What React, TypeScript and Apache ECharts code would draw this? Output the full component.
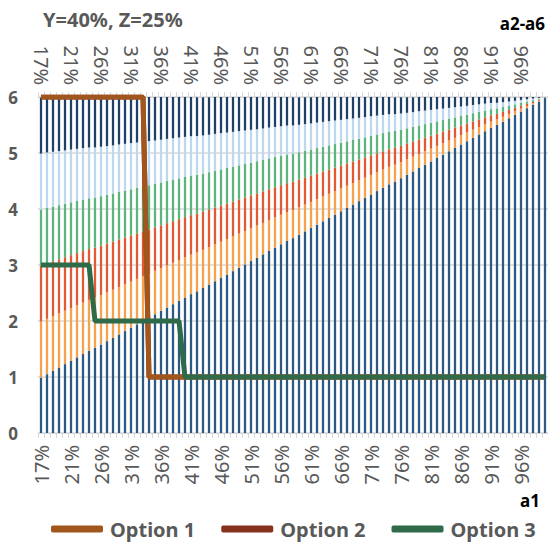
import React, { useEffect, useRef } from 'react';
import * as echarts from 'echarts';

// a1 (category axis), in percent
const a1Percent = [
  16.5, 17.49, 18.48, 19.47, 20.46, 21.45, 22.44, 23.43, 24.42, 25.41,
  26.4, 27.39, 28.38, 29.37, 30.36, 31.35, 32.34, 33.33, 34.32, 35.31,
  36.3, 37.29, 38.28, 39.27, 40.26, 41.25, 42.24, 43.23, 44.22, 45.21,
  46.2, 47.19, 48.18, 49.17, 50.16, 51.15, 52.14, 53.13, 54.12, 55.11,
  56.1, 57.09, 58.08, 59.07, 60.06, 61.05, 62.04, 63.03, 64.02, 65.01,
  66.0, 66.99, 67.98, 68.97, 69.96, 70.95, 71.94, 72.93, 73.92, 74.91,
  75.9, 76.89, 77.88, 78.87, 79.86, 80.85, 81.84, 82.83, 83.82, 84.81,
  85.8, 86.79, 87.78, 88.77, 89.76, 90.75, 91.74, 92.73, 93.72, 94.71,
  95.7, 96.69, 97.68, 98.67, 99.66,
];

// bottom stacked segment (dark blue)
const a1Segment = [
  0.99, 1.05, 1.11, 1.17, 1.23, 1.29, 1.35, 1.41, 1.47, 1.52,
  1.58, 1.64, 1.70, 1.76, 1.82, 1.88, 1.94, 2.00, 2.06, 2.12,
  2.18, 2.24, 2.30, 2.36, 2.42, 2.48, 2.53, 2.59, 2.65, 2.71,
  2.77, 2.83, 2.89, 2.95, 3.01, 3.07, 3.13, 3.19, 3.25, 3.31,
  3.37, 3.43, 3.48, 3.54, 3.60, 3.66, 3.72, 3.78, 3.84, 3.90,
  3.96, 4.02, 4.08, 4.14, 4.20, 4.26, 4.32, 4.38, 4.44, 4.49,
  4.55, 4.61, 4.67, 4.73, 4.79, 4.85, 4.91, 4.97, 5.03, 5.09,
  5.15, 5.21, 5.27, 5.33, 5.39, 5.45, 5.50, 5.56, 5.62, 5.68,
  5.74, 5.80, 5.86, 5.92, 5.98,
];

// each of the a2..a6 segments (they are equal in the picture)
const a2toA6Segment = [
  1.000, 0.990, 0.978, 0.966, 0.954, 0.943, 0.931, 0.919, 0.907, 0.895,
  0.883, 0.871, 0.859, 0.848, 0.836, 0.824, 0.812, 0.800, 0.788, 0.776,
  0.764, 0.753, 0.741, 0.729, 0.717, 0.705, 0.693, 0.681, 0.669, 0.658,
  0.646, 0.634, 0.622, 0.610, 0.598, 0.586, 0.574, 0.562, 0.551, 0.539,
  0.527, 0.515, 0.503, 0.491, 0.479, 0.467, 0.456, 0.444, 0.432, 0.420,
  0.408, 0.396, 0.384, 0.372, 0.360, 0.349, 0.337, 0.325, 0.313, 0.301,
  0.289, 0.277, 0.265, 0.254, 0.242, 0.230, 0.218, 0.206, 0.194, 0.182,
  0.170, 0.158, 0.147, 0.135, 0.123, 0.111, 0.099, 0.087, 0.075, 0.063,
  0.052, 0.040, 0.028, 0.016, 0.004,
];

const option1 = [
  6, 6, 6, 6, 6, 6, 6, 6, 6, 6,
  6, 6, 6, 6, 6, 6, 6, 6, 1, 1,
  1, 1, 1, 1, 1, 1, 1, 1, 1, 1,
  1, 1, 1, 1, 1, 1, 1, 1, 1, 1,
  1, 1, 1, 1, 1, 1, 1, 1, 1, 1,
  1, 1, 1, 1, 1, 1, 1, 1, 1, 1,
  1, 1, 1, 1, 1, 1, 1, 1, 1, 1,
  1, 1, 1, 1, 1, 1, 1, 1, 1, 1,
  1, 1, 1, 1, 1,
];

const option2 = [
  6, 6, 6, 6, 6, 6, 6, 6, 6, 6,
  6, 6, 6, 6, 6, 6, 6, 6, 1, 1,
  1, 1, 1, 1, 1, 1, 1, 1, 1, 1,
  1, 1, 1, 1, 1, 1, 1, 1, 1, 1,
  1, 1, 1, 1, 1, 1, 1, 1, 1, 1,
  1, 1, 1, 1, 1, 1, 1, 1, 1, 1,
  1, 1, 1, 1, 1, 1, 1, 1, 1, 1,
  1, 1, 1, 1, 1, 1, 1, 1, 1, 1,
  1, 1, 1, 1, 1,
];

const option3 = [
  3, 3, 3, 3, 3, 3, 3, 3, 3, 2,
  2, 2, 2, 2, 2, 2, 2, 2, 2, 2,
  2, 2, 2, 2, 1, 1, 1, 1, 1, 1,
  1, 1, 1, 1, 1, 1, 1, 1, 1, 1,
  1, 1, 1, 1, 1, 1, 1, 1, 1, 1,
  1, 1, 1, 1, 1, 1, 1, 1, 1, 1,
  1, 1, 1, 1, 1, 1, 1, 1, 1, 1,
  1, 1, 1, 1, 1, 1, 1, 1, 1, 1,
  1, 1, 1, 1, 1,
];

const yTicks = [0, 1, 2, 3, 4, 5, 6];
const stackNames = ['a1', 'a2', 'a3', 'a4', 'a5', 'a6'];
const stackColors = ['#2C5A82', '#F4A24E', '#E05A33', '#5DB47E', '#BDD7EE', '#1F4068'];
const lineNames = ['Option 1', 'Option 2', 'Option 3'];
const lineColors = ['#A0561C', '#86321C', '#2F6B48'];

const FONT = '"Noto Sans", "DejaVu Sans", sans-serif';

export default function App() {
  const ref = useRef<HTMLDivElement>(null);
  useEffect(() => {
    if (!ref.current) return;
    const chart = echarts.init(ref.current, undefined, { renderer: 'svg' });
    const cats = a1Percent.map((v) => String(v));
    const fmt = (v: string) => Math.round(parseFloat(v)) + '%';
    const xAxisCommon = {
      type: 'category' as const,
      data: cats,
      boundaryGap: true,
      axisLine: { show: true, lineStyle: { color: '#D9D9D9', width: 1 } },
      axisTick: { show: true, interval: 0, length: 5, lineStyle: { color: '#D9D9D9', width: 1 } },
      axisLabel: {
        interval: 4,
        rotate: 90,
        margin: 12,
        formatter: fmt,
        color: '#595959',
        fontFamily: FONT,
        fontSize: 20,
      },
      splitLine: { show: false },
    };
    const barData = [a1Segment, a2toA6Segment, a2toA6Segment, a2toA6Segment, a2toA6Segment, a2toA6Segment];
    const series: any[] = stackNames.map((n, k) => ({
      name: n,
      type: 'bar',
      stack: 'total',
      barWidth: '38%',
      data: barData[k],
      itemStyle: { color: stackColors[k] },
      xAxisIndex: 0,
      yAxisIndex: 0,
      z: 2,
    }));
    const lineData = [option1, option2, option3];
    // draw order: Option 2 below Option 1, Option 3 on top
    [1, 0, 2].forEach((k) => {
      series.push({
        name: lineNames[k],
        type: 'line',
        data: lineData[k],
        showSymbol: false,
        symbol: 'none',
        lineStyle: { color: lineColors[k], width: 5 },
        itemStyle: { color: lineColors[k] },
        xAxisIndex: 0,
        yAxisIndex: 0,
        z: 3,
      });
    });
    chart.setOption({
      animation: false,
      grid: { left: 38, right: 0, top: 97, bottom: 110, containLabel: false },
      xAxis: [
        { ...xAxisCommon, position: 'bottom' },
        { ...xAxisCommon, position: 'top' },
      ],
      yAxis: {
        type: 'value',
        min: yTicks[0],
        max: yTicks[yTicks.length - 1],
        interval: 1,
        axisLine: { show: false },
        axisTick: { show: false },
        axisLabel: {
          margin: 20,
          color: '#595959',
          fontFamily: FONT,
          fontSize: 17,
          fontWeight: 'bold',
        },
        splitLine: { show: true, lineStyle: { color: '#D9D9D9', width: 1.5 } },
      },
      legend: {
        data: lineNames,
        left: 46,
        top: 514,
        icon: 'roundRect',
        itemWidth: 52,
        itemHeight: 7,
        itemGap: 26,
        textStyle: {
          fontFamily: FONT,
          fontSize: 20,
          fontWeight: 'bold',
          color: '#595959',
          padding: [0, 0, 0, 2],
        },
      },
      graphic: [
        {
          type: 'text',
          left: 43,
          top: 9,
          style: { text: 'Y=40%, Z=25%', font: 'bold 20px "Noto Sans"', fill: '#595959' },
        },
        {
          type: 'text',
          right: 3,
          top: 15,
          style: { text: 'a2-a6', font: 'bold 17px "Noto Sans"', fill: '#000000' },
        },
        {
          type: 'text',
          right: 8,
          top: 492,
          style: { text: 'a1', font: 'bold 17px "Noto Sans"', fill: '#000000' },
        },
      ],
      series,
    });
    return () => chart.dispose();
  }, []);
  return (
    <div
      ref={ref}
      style={{ position: 'fixed', left: 0, top: 0, width: 548, height: 543, background: '#ffffff' }}
    />
  );
}
